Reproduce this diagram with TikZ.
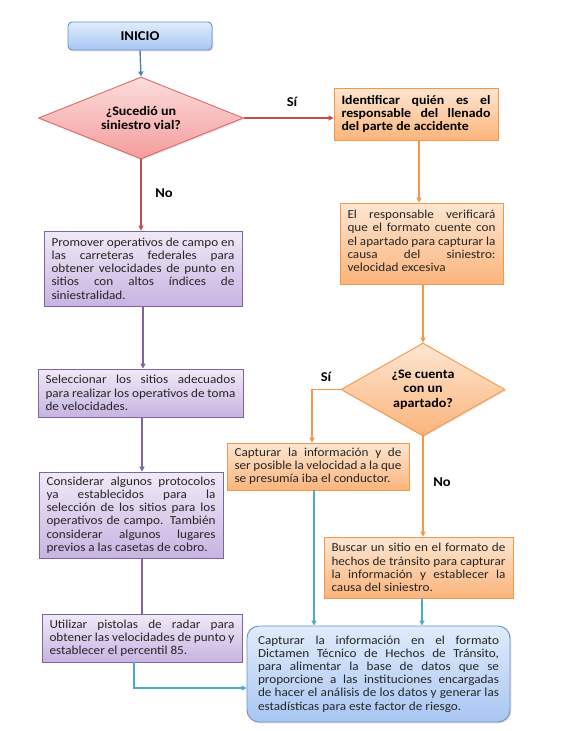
\documentclass[tikz,border=0pt]{standalone}
\usepackage{fontspec}
\setmainfont{Carlito}[FakeStretch=1.08]
\usetikzlibrary{shapes.geometric,arrows.meta,shadows,calc}
\definecolor{blueline}{HTML}{4F81BD}
\definecolor{redline}{HTML}{C0504D}
\definecolor{redbord}{HTML}{E06A66}
\definecolor{orangeline}{HTML}{F79646}
\definecolor{purpleline}{HTML}{8064A2}
\definecolor{tealline}{HTML}{4BACC6}
\definecolor{btop}{HTML}{E0ECFC}
\definecolor{bbot}{HTML}{A8C6F2}
\definecolor{bbord}{HTML}{6D93C9}
\definecolor{ptop}{HTML}{F0EAF7}
\definecolor{pbot}{HTML}{C8B3E2}
\definecolor{otop}{HTML}{FDE6D2}
\definecolor{obot}{HTML}{FBB47B}
\definecolor{rtop}{HTML}{FCDDDD}
\definecolor{rbot}{HTML}{F59C9C}
\definecolor{txt}{HTML}{262626}
\tolerance=10000
\hyphenpenalty=10000
\exhyphenpenalty=10000
\tikzset{
  box/.style={draw, line width=0.9pt, inner xsep=7.5pt, inner ysep=2pt, align=justify,
    text=txt, font=\fontsize{12.2}{13.2}\selectfont,
    drop shadow={opacity=0.25, shadow xshift=1.3pt, shadow yshift=-1.3pt}},
  purplebox/.style={box, draw=purpleline, top color=ptop, bottom color=pbot},
  orangebox/.style={box, draw=orangeline, top color=otop, bottom color=obot},
  bluebox/.style={box, draw=bbord, top color=btop, bottom color=bbot},
  decision/.style={diamond, draw, line width=0.9pt, align=center, inner sep=0pt,
    font=\fontsize{13}{14.5}\selectfont\bfseries,
    drop shadow={opacity=0.2, shadow xshift=1.3pt, shadow yshift=-1.3pt}},
  lbl/.style={font=\fontsize{13.5}{14}\selectfont\bfseries},
  conn/.style={line width=1.4pt, -{Triangle[length=5pt,width=5pt]}},
  plainconn/.style={line width=1.4pt},
}
\begin{document}
\begin{tikzpicture}[x=1pt,y=-1pt]
\useasboundingbox (0,0) rectangle (562,731);
\fill[white] (0,0) rectangle (562,731);

% nodes
\node[bluebox, rounded corners=4pt, align=center, minimum width=144pt, minimum height=28pt,
  font=\fontsize{13.5}{14}\selectfont\bfseries, text=black] (inicio) at (140,36) {INICIO};

\node[decision, draw=redbord, top color=rtop, bottom color=rbot, aspect=2.5,
  minimum width=205pt, minimum height=82pt] (d1) at (141,118) {¿Sucedió un\\siniestro vial?};

\node[orangebox, text=black, minimum width=164pt, minimum height=52pt, text width=149pt,
  font=\fontsize{12.8}{13}\selectfont\bfseries] (ident) at (416,114)
  {Identificar quién es el\linebreak responsable del llenado\linebreak del parte de accidente};

\node[orangebox, minimum width=163pt, minimum height=81pt, text width=148pt] (resp) at (421.5,243.5)
  {El responsable verificará\linebreak que el formato cuente con\linebreak el apartado para capturar la\linebreak causa del siniestro:\linebreak velocidad excesiva\par\vspace{5pt}};

\node[decision, draw=orangeline, top color=otop, bottom color=obot, aspect=1.76,
  minimum width=164pt, minimum height=93pt] (d2) at (423,389.5) {¿Se cuenta\\con un\\apartado?};

\node[orangebox, minimum width=182pt, minimum height=47pt, text width=167pt] (capt) at (318,466.5)
  {Capturar la información y de\linebreak ser posible la velocidad a la que\linebreak se presumía iba el conductor.};

\node[orangebox, minimum width=189pt, minimum height=61pt, text width=174pt] (busc) at (418.5,567.5)
  {Buscar un sitio en el formato de\linebreak hechos de tránsito para capturar\linebreak la información y establecer la\linebreak causa del siniestro.};

\node[bluebox, rounded corners=12pt, minimum width=263pt, minimum height=96pt, text width=241pt,
  inner xsep=11pt] (final) at (378.5,674)
  {Capturar la información en el formato\linebreak Dictamen Técnico de Hechos de Tránsito,\linebreak para alimentar la base de datos que se\linebreak proporcione a las instituciones encargadas\linebreak de hacer el análisis de los datos y generar las\linebreak estadísticas para este factor de riesgo.};

\node[purplebox, minimum width=198pt, minimum height=75pt, text width=183pt] (prom) at (143,268.5)
  {Promover operativos de campo en\linebreak las carreteras federales para\linebreak obtener velocidades de punto en\linebreak sitios con altos índices de\linebreak siniestralidad.};

\node[purplebox, minimum width=205pt, minimum height=48pt, text width=190pt] (sel) at (140.5,393)
  {Seleccionar los sitios adecuados\linebreak para realizar los operativos de toma\linebreak de velocidades.};

\node[purplebox, minimum width=184pt, minimum height=86pt, text width=169pt] (cons) at (131,515)
  {Considerar algunos protocolos\linebreak ya establecidos para la\linebreak selección de los sitios para los\linebreak operativos de campo. También\linebreak considerar algunos lugares\linebreak previos a las casetas de cobro.};

\node[purplebox, minimum width=200pt, minimum height=48pt, text width=185pt] (util) at (142,638)
  {Utilizar pistolas de radar para\linebreak obtener las velocidades de punto y\linebreak establecer el percentil 85.};

% labels
\node[lbl] (si1) at (292,102) {Sí};
\node[lbl] (no1) at (164,193) {No};
\node[lbl] (si2) at (326,377) {Sí};
\node[lbl] (no2) at (442,482) {No};

% connectors
\draw[conn, blueline] (inicio.south) -- (d1.north);
\draw[conn, redline] (d1.east) -- (d1.east -| ident.west);
\draw[conn, redline] (d1.south) -- (d1.south |- prom.north);
\coordinate (identout) at ($(ident.south)+(3,0)$);
\draw[conn, orangeline] (identout) -- (identout |- resp.north);
\coordinate (respout) at ($(resp.south)+(1.5,0)$);
\draw[conn, orangeline] (respout) -- (d2.north);
\coordinate (captin) at ($(capt.north)+(-6,0)$);
\draw[conn, orangeline] (d2.west) -| (captin);
\draw[conn, orangeline] (d2.south) -- (d2.south |- busc.north);
\coordinate (captout) at ($(capt.south)+(-4,0)$);
\draw[conn, tealline] (captout) -- (captout |- final.north);
\coordinate (buscout) at ($(busc.south)+(3.5,0)$);
\draw[conn, tealline] (buscout) -- (buscout |- final.north);
\draw[conn, purpleline] (prom.south) -- (prom.south |- sel.north);
\coordinate (selout) at ($(sel.south)+(1.5,0)$);
\draw[conn, purpleline] (selout) -- (selout |- cons.north);
\coordinate (consout) at ($(cons.south)+(11,0)$);
\draw[plainconn, purpleline] (consout) -- (consout |- util.north);
\coordinate (utilout) at ($(util.south)+(-8,0)$);
\coordinate (finalin) at ($(final.west)+(0,14)$);
\draw[conn, tealline] (utilout) |- (finalin);
\end{tikzpicture}
\end{document}
